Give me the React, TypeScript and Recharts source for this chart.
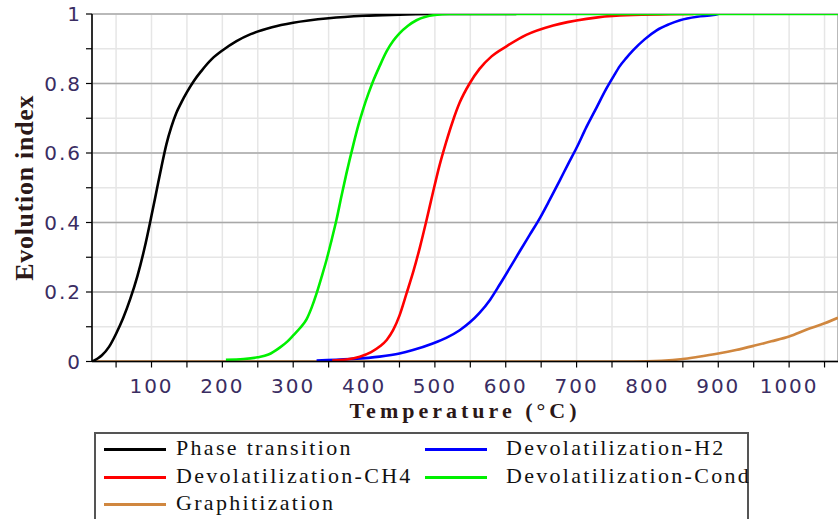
import React from 'react'
import { LineChart, Line, XAxis, YAxis, CartesianGrid, Label } from 'recharts'

// temperatures (°C) and evolution index
const phaseTemp = [16, 20, 25, 30, 40, 50, 60, 70, 80, 90, 100, 107, 114, 121, 128, 135, 142, 150, 160, 170, 185, 200, 220, 240, 270, 300, 350, 400, 450, 500, 615]
const phaseIndex = [0, 0.004, 0.01, 0.018, 0.042, 0.08, 0.125, 0.18, 0.245, 0.325, 0.42, 0.49, 0.56, 0.625, 0.675, 0.715, 0.745, 0.775, 0.808, 0.835, 0.87, 0.895, 0.922, 0.942, 0.962, 0.975, 0.988, 0.995, 0.998, 1, 1]

const h2Temp = [333, 380, 422, 450, 469, 497, 516, 535, 549, 563, 578, 592, 606, 620, 634, 648, 662, 676, 688, 700, 714, 728, 742, 752, 761, 770, 780, 796, 813, 830, 846, 870, 893, 900]
const h2Index = [0.003, 0.007, 0.014, 0.023, 0.033, 0.052, 0.068, 0.09, 0.112, 0.14, 0.178, 0.223, 0.27, 0.318, 0.365, 0.412, 0.465, 0.52, 0.568, 0.615, 0.675, 0.73, 0.785, 0.82, 0.85, 0.873, 0.896, 0.927, 0.953, 0.97, 0.982, 0.992, 0.997, 1]

const ch4Temp = [355, 375, 394, 410, 422, 432, 441, 450, 460, 470, 479, 488, 497, 506, 516, 525, 535, 549, 563, 580, 601, 629, 667, 714, 761, 865]
const ch4Index = [0.003, 0.006, 0.014, 0.027, 0.043, 0.062, 0.09, 0.132, 0.196, 0.262, 0.33, 0.405, 0.484, 0.56, 0.632, 0.69, 0.745, 0.8, 0.842, 0.878, 0.907, 0.94, 0.967, 0.986, 0.996, 1]

const condTemp = [205, 230, 250, 265, 281, 292, 300, 310, 319, 326, 333, 340, 347, 354, 361, 368, 375, 385, 392, 399, 406, 413, 422, 432, 441, 450, 462, 474, 487, 500, 520, 1069]
const condIndex = [0.005, 0.007, 0.012, 0.02, 0.04, 0.058, 0.075, 0.097, 0.122, 0.155, 0.196, 0.243, 0.292, 0.348, 0.407, 0.475, 0.54, 0.625, 0.68, 0.728, 0.77, 0.808, 0.85, 0.893, 0.922, 0.944, 0.966, 0.982, 0.992, 0.997, 1, 1]

const graphTemp = [16, 780, 820, 850, 870, 900, 925, 950, 975, 1000, 1025, 1050, 1069]
const graphIndex = [0, 0, 0.002, 0.007, 0.013, 0.023, 0.033, 0.045, 0.058, 0.072, 0.092, 0.11, 0.126]

const tempDomain = [16, 1069]
const xTicks = [50, 100, 150, 200, 250, 300, 350, 400, 450, 500, 550, 600, 650, 700, 750, 800, 850, 900, 950, 1000, 1050]
const xMajor = [100, 200, 300, 400, 500, 600, 700, 800, 900, 1000]
const yTicks = [0, 0.1, 0.2, 0.3, 0.4, 0.5, 0.6, 0.7, 0.8, 0.9, 1]
const yMajor = [0, 0.2, 0.4, 0.6, 0.8, 1]

const zip = (t: number[], y: number[]) => t.map((v, i) => ({ t: v, y: y[i] }))

const series = {
  phase: { name: 'Phase transition', color: '#000000', data: zip(phaseTemp, phaseIndex) },
  h2: { name: 'Devolatilization-H2', color: '#0000ff', data: zip(h2Temp, h2Index) },
  ch4: { name: 'Devolatilization-CH4', color: '#ff0000', data: zip(ch4Temp, ch4Index) },
  cond: { name: 'Devolatilization-Cond', color: '#00f000', data: zip(condTemp, condIndex) },
  graph: { name: 'Graphitization', color: '#d0873f', data: zip(graphTemp, graphIndex) },
}

// draw order (graphitization underneath, condensables on top)
const drawOrder = [series.graph, series.phase, series.h2, series.ch4, series.cond]
// legend order, row by row in two columns
const legendOrder = [series.phase, series.h2, series.ch4, series.cond, series.graph]

const tickStyle = { fontSize: 20, fill: '#3a2d62', fontFamily: 'DejaVu Sans', letterSpacing: 2 }

function ChartLegend() {
  const colX = [[8, 80], [329, 410]]
  const rowY = [15, 43, 70]
  return (
    <div
      style={{
        position: 'absolute',
        left: 94,
        top: 432,
        width: 655,
        height: 110,
        border: '2px solid #555',
        boxSizing: 'border-box',
        fontFamily: 'Liberation Serif',
        fontSize: 22,
        letterSpacing: 2.3,
        color: '#111',
      }}
    >
      {legendOrder.map((s, i) => {
        const [lx, tx] = colX[i % 2]
        const top = rowY[Math.floor(i / 2)]
        return (
          <React.Fragment key={s.name}>
            <div style={{ position: 'absolute', left: lx, top: top - 1.5, width: 62, height: 3, background: s.color }} />
            <div style={{ position: 'absolute', left: tx, top: top - 14, lineHeight: '26px', whiteSpace: 'nowrap' }}>{s.name}</div>
          </React.Fragment>
        )
      })}
    </div>
  )
}

export default function App() {
  return (
    <div style={{ position: 'absolute', left: 0, top: 0, width: 838, height: 519, overflow: 'hidden', background: '#fff' }}>
      <LineChart width={838} height={519} margin={{ top: 14, right: 0, bottom: 97.5, left: 0 }}>
        <XAxis xAxisId="major" type="number" domain={tempDomain} ticks={xMajor} allowDataOverflow hide />
        <YAxis yAxisId="major" type="number" domain={[0, 1]} ticks={yMajor} allowDataOverflow hide />
        <CartesianGrid stroke="#e6e6e6" strokeWidth={1.5} />
        <CartesianGrid xAxisId="major" yAxisId="major" stroke="#a8a8a8" strokeWidth={1.5} />
        <XAxis
          type="number"
          dataKey="t"
          domain={tempDomain}
          ticks={xTicks}
          allowDataOverflow
          height={60}
          tickSize={6}
          tickMargin={11}
          tick={tickStyle}
          tickFormatter={(v: number) => (v % 100 === 0 ? String(v) : '')}
          axisLine={{ stroke: '#000', strokeWidth: 1.5 }}
          tickLine={{ stroke: '#000', strokeWidth: 1.2 }}
        >
          <Label
            value="Temperature (°C)"
            position="insideBottom"
            offset={4}
            style={{ fontFamily: 'Liberation Serif', fontWeight: 'bold', fontSize: 22, letterSpacing: 4, fill: '#2b1818' }}
          />
        </XAxis>
        <YAxis
          type="number"
          domain={[0, 1]}
          ticks={yTicks}
          allowDataOverflow
          width={92}
          tickSize={6}
          tickMargin={4}
          tick={tickStyle}
          tickFormatter={(v: number) => (Math.round(v * 10) % 2 === 0 ? String(v) : '')}
          axisLine={{ stroke: '#000', strokeWidth: 1.5 }}
          tickLine={{ stroke: '#000', strokeWidth: 1.2 }}
        >
          <Label
            value="Evolution index"
            position="center"
            angle={-90}
            dx={-22}
            style={{ fontFamily: 'Liberation Serif', fontWeight: 'bold', fontSize: 26, letterSpacing: 0.7, fill: '#2b1818' }}
          />
        </YAxis>
        {drawOrder.map((s) => (
          <Line
            key={s.name}
            data={s.data}
            dataKey="y"
            name={s.name}
            type="monotone"
            stroke={s.color}
            strokeWidth={2.6}
            dot={false}
            isAnimationActive={false}
          />
        ))}
      </LineChart>
      <ChartLegend />
    </div>
  )
}
